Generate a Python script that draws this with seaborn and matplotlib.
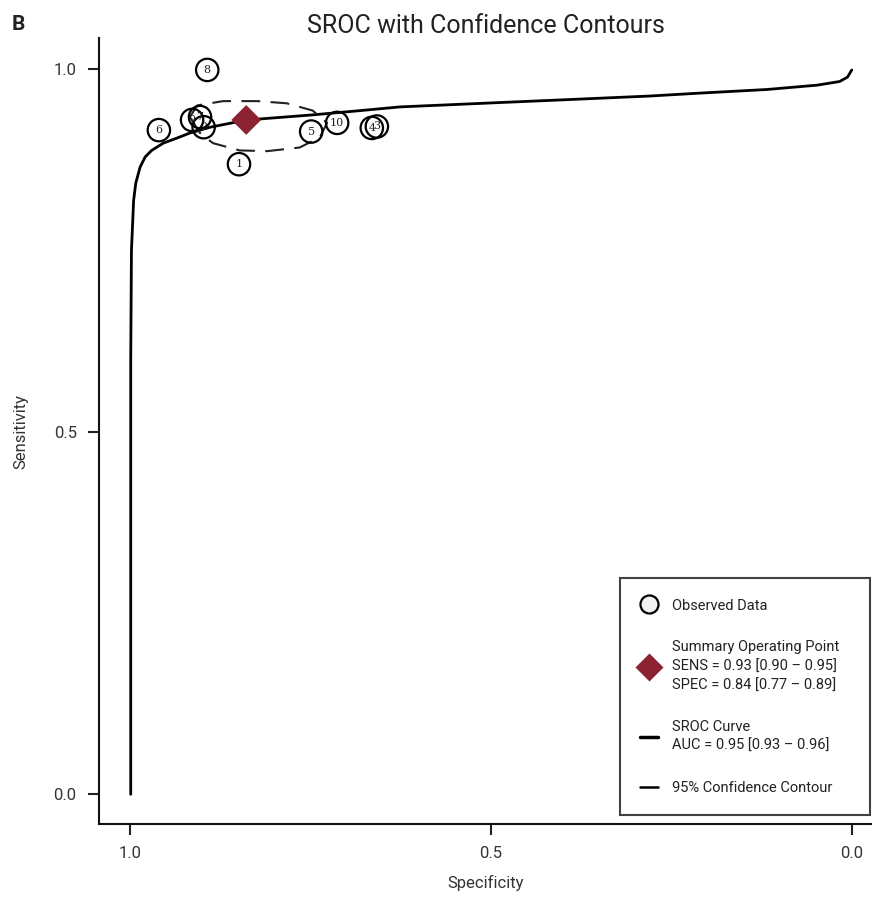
import numpy as np
import pandas as pd
import matplotlib
matplotlib.use("Agg")
import matplotlib.pyplot as plt
from matplotlib.lines import Line2D
import seaborn as sns

# observed studies (specificity, sensitivity)
study_ids = ["8", "6", "9", "7", "2", "1", "5", "10", "4", "3"]
study_spec = [0.893, 0.960, 0.914, 0.903, 0.898, 0.849, 0.749, 0.713, 0.665, 0.658]
study_sens = [0.999, 0.916, 0.930, 0.934, 0.920, 0.869, 0.914, 0.926, 0.919, 0.921]

# summary operating point
summary_spec = [0.839]
summary_sens = [0.930]

# SROC curve
sroc_spec = [0.999, 0.999, 0.998, 0.995, 0.992, 0.986, 0.979, 0.970, 0.954, 0.935,
             0.917, 0.889, 0.838, 0.747, 0.680, 0.626, 0.557, 0.488, 0.418, 0.349,
             0.280, 0.211, 0.118, 0.048, 0.017, 0.006, 0.000]
sroc_sens = [0.000, 0.600, 0.750, 0.819, 0.843, 0.865, 0.879, 0.888, 0.898, 0.905,
             0.912, 0.920, 0.930, 0.937, 0.943, 0.948, 0.951, 0.954, 0.957, 0.960,
             0.963, 0.967, 0.972, 0.978, 0.983, 0.989, 0.999]

# 95% confidence contour
conf_spec = [0.917, 0.907, 0.871, 0.824, 0.783, 0.747, 0.727, 0.737, 0.765, 0.810,
             0.848, 0.885, 0.903, 0.917]
conf_sens = [0.934, 0.950, 0.956, 0.956, 0.953, 0.943, 0.926, 0.906, 0.892, 0.887,
             0.888, 0.898, 0.912, 0.934]

sns.set_theme(style="ticks")
plt.rcParams["font.family"] = ["Roboto", "DejaVu Sans"]

fig = plt.figure(figsize=(8.72, 8.99), dpi=100)
ax = fig.add_axes([0.1135, 0.0834, 0.8865, 0.8743])

sroc = pd.DataFrame({"spec": sroc_spec, "sens": sroc_sens})
conf = pd.DataFrame({"spec": conf_spec, "sens": conf_sens})
studies = pd.DataFrame({"spec": study_spec, "sens": study_sens, "id": study_ids})
summary = pd.DataFrame({"spec": summary_spec, "sens": summary_sens})

sns.lineplot(data=sroc, x="spec", y="sens", sort=False, estimator=None,
             color="black", lw=2.0, ax=ax)
sns.lineplot(data=conf, x="spec", y="sens", sort=False, estimator=None,
             color="#222222", lw=1.5, ax=ax, linestyle=(0, (9, 5)))
sns.scatterplot(data=studies, x="spec", y="sens", s=260, facecolor="none",
                edgecolor="black", linewidth=1.6, ax=ax, zorder=3)
for _, r in studies.iterrows():
    ax.text(r["spec"], r["sens"], r["id"], ha="center", va="center",
            fontsize=8, family="DejaVu Serif", color="#222222", zorder=4)
sns.scatterplot(data=summary, x="spec", y="sens", marker="D", s=230,
                color="#8b2332", edgecolor="none", ax=ax, zorder=5)

ax.set_xlim(1.043, -0.028)
ax.set_ylim(-0.041, 1.043)
ax.set_xticks([1.0, 0.5, 0.0])
ax.set_yticks([0.0, 0.5, 1.0])
ax.set_xticklabels(["1.0", "0.5", "0.0"])
ax.set_yticklabels(["0.0", "0.5", "1.0"])
ax.tick_params(axis="both", length=8, width=1.5, labelsize=12, pad=8,
               colors="#222222", labelcolor="#333333")
for s in ["top", "right"]:
    ax.spines[s].set_visible(False)
for s in ["left", "bottom"]:
    ax.spines[s].set_linewidth(1.5)
    ax.spines[s].set_color("#111111")
ax.set_xlabel("Specificity", fontsize=12, color="#333333", labelpad=10)
ax.set_ylabel("Sensitivity", fontsize=12, color="#333333", labelpad=18)
ax.set_title("SROC with Confidence Contours", fontsize=18, color="#222222", pad=3)
fig.text(0.013, 0.967, "B", fontsize=15, fontweight="bold", color="#222222")

handles = [
    Line2D([], [], marker="o", ls="none", markersize=13, markerfacecolor="#f2f2f2",
           markeredgecolor="black", markeredgewidth=1.6),
    Line2D([], [], marker="D", ls="none", markersize=14, markerfacecolor="#8b2332",
           markeredgecolor="none"),
    Line2D([], [], color="black", lw=2.5),
    Line2D([], [], color="black", lw=1.8),
]
labels = [
    "Observed Data",
    "Summary Operating Point\nSENS = 0.93 [0.90 \u2013 0.95]\nSPEC = 0.84 [0.77 \u2013 0.89]",
    "SROC Curve\nAUC = 0.95 [0.93 \u2013 0.96]",
    "95% Confidence Contour",
]
leg = ax.legend(handles, labels, loc="lower left",
                bbox_to_anchor=(0.711, 0.093, 0.287, 0.265),
                bbox_transform=fig.transFigure, mode="expand",
                fontsize=10.5, frameon=True, fancybox=False, handlelength=1.2,
                handletextpad=1.0, labelspacing=1.9, borderpad=1.4,
                borderaxespad=0)
leg.get_frame().set_edgecolor("#111111")
leg.get_frame().set_linewidth(1.5)
for t in leg.get_texts():
    t.set_color("#222222")
    t.set_linespacing(1.45)

fig.savefig("out.png", dpi=100)
